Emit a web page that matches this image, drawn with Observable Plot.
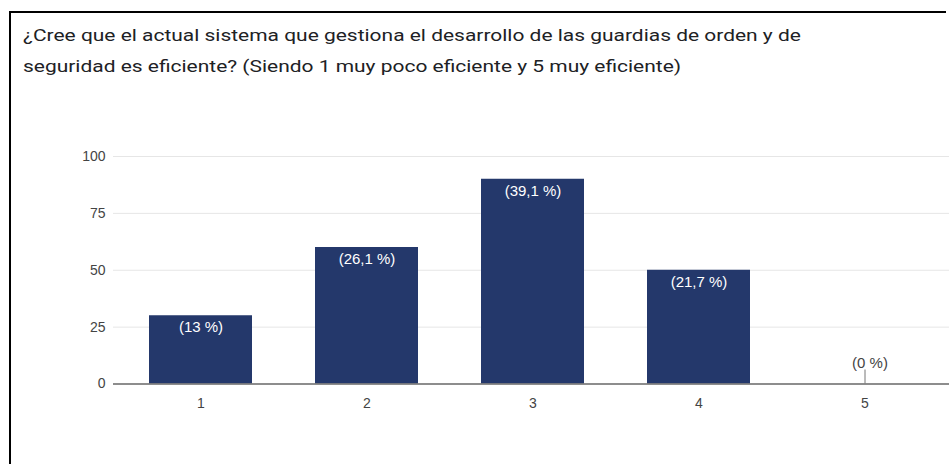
<!DOCTYPE html>
<html>
<head>
<meta charset="utf-8">
<script src="https://cdn.jsdelivr.net/npm/d3@7"></script>
<script src="https://cdn.jsdelivr.net/npm/@observablehq/plot@0.6"></script>
<style>
  html, body { margin: 0; padding: 0; background: #fff; }
  #page { position: relative; width: 949px; height: 464px; overflow: hidden; }
  #frameTop { position: absolute; left: 9px; top: 11px; width: 937px; height: 2px; background: #000; }
  #frameLeft { position: absolute; left: 9px; top: 11px; width: 2px; height: 453px; background: #000; }
  #chart { position: absolute; left: 0; top: 0; }
  #title { position: absolute; left: 23px; top: 20px; font-family: Roboto, sans-serif; font-size: 16.5px; line-height: 31px; color: #202124; white-space: nowrap; transform: scaleX(1.27); transform-origin: 0 0; }
</style>
</head>
<body>
<div id="page">
<div id="frameTop"></div>
<div id="frameLeft"></div>
<div id="chart"></div>
<div id="title">¿Cree que el actual sistema que gestiona el desarrollo de las guardias de orden y de<br>seguridad es eficiente? (Siendo 1 muy poco eficiente y 5 muy eficiente)</div>
</div>
<script>
const categories = ["1", "2", "3", "4", "5"];
const counts = [30, 60, 90, 50, 0];
const percentLabels = ["(13 %)", "(26,1 %)", "(39,1 %)", "(21,7 %)", "(0 %)"];
const yTicks = [0, 25, 50, 75, 100];

const data = categories.map((c, i) => ({cat: c, value: counts[i], label: percentLabels[i]}));
const nonZero = data.filter(d => d.value > 0);
const zero = data.filter(d => d.value === 0);

const chart = Plot.plot({
  width: 949,
  height: 464,
  marginTop: 156,
  marginBottom: 80.5,
  marginLeft: 113,
  marginRight: 0,
  style: {background: "transparent", fontFamily: "'Liberation Sans', Arial, sans-serif"},
  x: {domain: categories, range: [116, 949], paddingInner: 0.38, paddingOuter: 0.19, label: null},
  y: {domain: [0, 100], label: null},
  marks: [
    Plot.gridY(yTicks, {stroke: "#e6e6e6", strokeOpacity: 1, strokeWidth: 1}),
    Plot.axisY(yTicks, {tickSize: 0, tickPadding: 8, fontSize: 14, fill: "#444", label: null}),
    Plot.axisX({tickSize: 0, tickPadding: 14, fontSize: 14, fill: "#444", label: null}),
    Plot.barY(nonZero, {x: "cat", y: "value", fill: "#24386b"}),
    Plot.ruleY([0], {stroke: "#6b6b6b", strokeWidth: 1.5}),
    Plot.ruleX(zero, {x: "cat", y1: "value", y2: "value", insetTop: -14, stroke: "#777", strokeWidth: 1}),
    Plot.text(nonZero, {x: "cat", y: "value", text: "label", dy: 11.5, fill: "#fff", fontSize: 15}),
    Plot.text(zero, {x: "cat", y: "value", text: "label", dy: -21, dx: 5, fill: "#444", fontSize: 15})
  ]
});
document.getElementById("chart").appendChild(chart);
</script>
</body>
</html>
